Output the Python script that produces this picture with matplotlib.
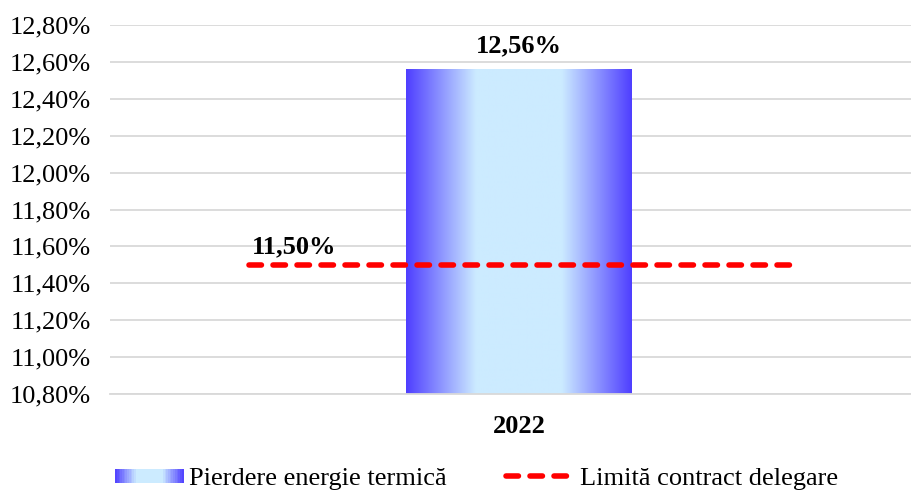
import numpy as np
import matplotlib
matplotlib.use("Agg")
import matplotlib.pyplot as plt
from matplotlib.colors import LinearSegmentedColormap
from matplotlib.legend_handler import HandlerBase
from matplotlib.patches import Rectangle
from matplotlib.lines import Line2D

plt.rcParams['font.family'] = ['Liberation Serif', 'DejaVu Serif']

# Data
categories = ["2022"]
loss_values = [12.56]
limit_value = 11.50
yticks = [10.80, 11.00, 11.20, 11.40, 11.60, 11.80, 12.00, 12.20, 12.40, 12.60, 12.80]
ytick_labels = ["10,80%", "11,00%", "11,20%", "11,40%", "11,60%", "11,80%",
                "12,00%", "12,20%", "12,40%", "12,60%", "12,80%"]
series_names = ["Pierdere energie termică", "Limită contract delegare"]
value_labels = ["12,56%"]
limit_label = "11,50%"

edge_blue = "#4F3FFF"
light_blue = "#CCEBFF"
grad_cmap = LinearSegmentedColormap.from_list(
    "bargrad", [(0.0, edge_blue), (0.31, light_blue), (0.69, light_blue), (1.0, edge_blue)])

FS = 19
LW = 4.0
dash_style = (0, (2.24, 2.08))

fig = plt.figure(figsize=(9.11, 4.92), dpi=100)
ax = fig.add_axes([110 / 911, 98 / 492, 818 / 911, 369 / 492])

base = yticks[0]
x = np.arange(len(categories))
bar_w = 0.276
heights = [v - base for v in loss_values]
bars = ax.bar(x, heights, width=bar_w, bottom=base, color="none", zorder=2)
gradient = np.linspace(0, 1, 256).reshape(1, -1)
for b in bars:
    x0, y0 = b.get_x(), b.get_y()
    im = ax.imshow(gradient, cmap=grad_cmap, aspect="auto",
                   extent=[x0, x0 + b.get_width(), y0, y0 + b.get_height()],
                   zorder=2, interpolation="bilinear")
    im.set_clip_path(b)

ax.set_xlim(-0.5, 0.5)
ax.set_ylim(yticks[0], yticks[-1])

# contractual limit
ax.plot([-0.330, 0.333], [limit_value, limit_value], color="#FF0000", lw=LW,
        linestyle=dash_style, dash_capstyle="round", zorder=3)

# value labels
for xi, v, lab in zip(x, loss_values, value_labels):
    ax.text(xi, v + 0.092, lab, ha="center", va="baseline", fontsize=FS, fontweight="bold")
ax.text(-0.326, limit_value + 0.06, limit_label, ha="left", va="baseline",
        fontsize=FS, fontweight="bold")

ax.set_yticks(yticks)
ax.set_yticklabels(ytick_labels, fontsize=FS)
ax.set_xticks(x)
ax.set_xticklabels(categories, fontsize=FS, fontweight="bold")
ax.tick_params(axis="y", length=0, pad=13.5)
ax.tick_params(axis="x", length=0, pad=15)
ax.grid(axis="y", color="#D9D9D9", lw=1.3, zorder=0)
ax.set_axisbelow(True)
for s in ["left", "right", "top"]:
    ax.spines[s].set_visible(False)
ax.spines["bottom"].set_color("#D9D9D9")
ax.spines["bottom"].set_linewidth(1.3)


class GradientHandler(HandlerBase):
    def create_artists(self, legend, orig_handle, xdescent, ydescent, width, height, fontsize, trans):
        n = 40
        h = 0.75 * height
        y0 = -ydescent + (height - h) / 2
        arts = []
        for i in range(n):
            c = grad_cmap((i + 0.5) / n)
            r = Rectangle((-xdescent + width * i / n, y0), width / n + 0.3, h,
                          facecolor=c, edgecolor="none", transform=trans)
            arts.append(r)
        return arts


bar_handle = Rectangle((0, 0), 1, 1)
line_handle = Line2D([0], [0], color="#FF0000", lw=LW, linestyle=dash_style,
                     dash_capstyle="round")
fig.legend([bar_handle, line_handle], series_names,
           handler_map={Rectangle: GradientHandler()},
           loc="lower center", bbox_to_anchor=(0.523, -0.045), ncol=2, frameon=False,
           fontsize=FS, handlelength=2.58, handleheight=0.7, columnspacing=2.27,
           handletextpad=0.2)

fig.savefig("out.png", dpi=100)
